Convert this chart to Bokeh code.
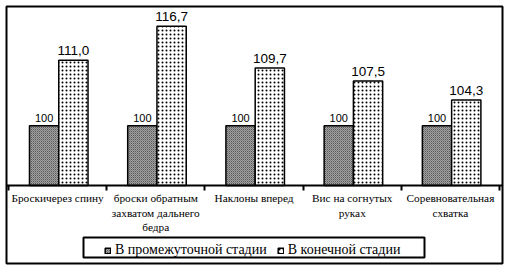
from bokeh.plotting import figure
from bokeh.models import (Range1d, LinearAxis, FixedTicker,
                          Legend, LegendItem, BoxAnnotation, ColumnDataSource)
from bokeh.transform import dodge
from bokeh.core.properties import value
from bokeh.embed import file_html
from bokeh.resources import INLINE

categories = ["Броскичерез спину",
              "броски обратным\nзахватом дальнего\nбедра",
              "Наклоны вперед",
              "Вис на согнутых\nруках",
              "Соревновательная\nсхватка"]
intermediate = [100, 100, 100, 100, 100]
final = [111.0, 116.7, 109.7, 107.5, 104.3]
intermediate_labels = ["100", "100", "100", "100", "100"]
final_labels = ["111,0", "116,7", "109,7", "107,5", "104,3"]
series_names = ["В промежуточной стадии", "В конечной стадии"]

SERIF = "Liberation Serif"
SANS = "Liberation Sans"

n = len(categories)
centers = [i + 0.5 for i in range(n)]
bounds = [float(i) for i in range(n + 1)]
BASE = 90

src = ColumnDataSource(dict(pos=centers, inter=intermediate, fin=final,
                            il=intermediate_labels, fl=final_labels))

# frame covers the whole bordered chart area; axes sit inside at y = BASE
p = figure(x_range=Range1d(-0.02, n + 0.03), y_range=Range1d(76.9, 120),
           width=506, height=270, output_backend="svg", toolbar_location=None,
           x_axis_location=None, y_axis_location=None,
           min_border_left=6, min_border_right=4, min_border_top=6, min_border_bottom=7,
           outline_line_color="black", outline_line_width=2,
           background_fill_color="white", border_fill_color="white")
p.grid.visible = False

tick_axis = LinearAxis(ticker=FixedTicker(ticks=bounds), fixed_location=BASE,
                       major_label_overrides={b: "" for b in bounds},
                       axis_line_width=2, axis_line_color="black",
                       major_tick_out=5, major_tick_in=0, major_tick_line_width=2,
                       minor_tick_line_color=None, major_label_text_font_size="1px",
                       major_label_standoff=0)
cat_axis = LinearAxis(ticker=FixedTicker(ticks=centers), fixed_location=BASE,
                      major_label_overrides={c: lab for c, lab in zip(centers, categories)},
                      axis_line_color=None, major_tick_line_color=None,
                      minor_tick_line_color=None,
                      major_label_text_font=SERIF, major_label_text_font_size="11.3px",
                      major_label_text_color="black", major_label_standoff=1)
p.add_layout(tick_axis, "below")
p.add_layout(cat_axis, "below")

w = 0.298
r1 = p.vbar(x=dodge("pos", -0.137), top="inter", bottom=BASE, width=w,
            source=src, fill_color="#a2a2a2", line_color="black", line_width=1.5,
            hatch_pattern="diagonal_cross", hatch_scale=2, hatch_color="black",
            hatch_weight=0.6, hatch_alpha=0.45)
r2 = p.vbar(x=dodge("pos", 0.161), top="fin", bottom=BASE, width=w,
            source=src, fill_color="white", line_color="black", line_width=1.5,
            hatch_pattern="dot", hatch_scale=4, hatch_color="black", hatch_weight=3)

p.text(x=dodge("pos", -0.137), y="inter", text="il", source=src,
       text_align="center", text_baseline="bottom", y_offset=-4,
       text_font=value(SANS), text_font_size="11px", text_color="black")
p.text(x=dodge("pos", 0.161), y="fin", text="fl", source=src,
       text_align="center", text_baseline="bottom", y_offset=-5,
       text_font=value(SANS), text_font_size="13.5px", text_color="black")

legend = Legend(items=[LegendItem(label=series_names[0], renderers=[r1]),
                       LegendItem(label=series_names[1], renderers=[r2])],
                orientation="horizontal", location=(98, 5),
                border_line_color=None, background_fill_alpha=0,
                label_text_font=SERIF, label_text_font_size="14px",
                label_text_color="black",
                glyph_width=7, glyph_height=7, padding=3, spacing=10,
                label_standoff=4, margin=0)
p.add_layout(legend, "center")

legend_box = BoxAnnotation(left=83, right=424, top=237, bottom=257,
                           left_units="canvas", right_units="canvas",
                           top_units="canvas", bottom_units="canvas",
                           fill_alpha=0, line_color="black", line_alpha=1,
                           line_width=2, level="overlay")
p.add_layout(legend_box)

open("out.html", "w").write(file_html(p, INLINE))
